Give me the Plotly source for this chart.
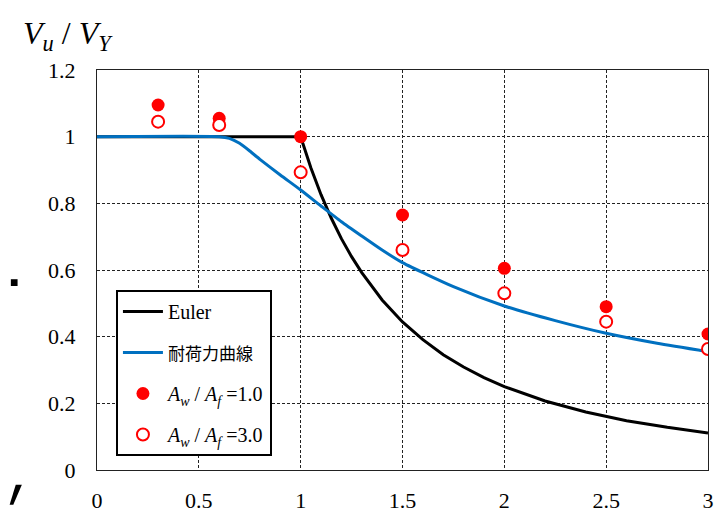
import plotly.graph_objects as go

# Euler curve
euler_x = [0, 1.0, 1.05, 1.1, 1.15, 1.2, 1.25, 1.3, 1.4, 1.5, 1.6, 1.7, 1.8, 1.9, 2.0, 2.2, 2.4, 2.6, 2.8, 3.0]
euler_y = [1.0, 1.0, 0.907, 0.826, 0.756, 0.694, 0.640, 0.592, 0.510, 0.444, 0.391, 0.346, 0.309, 0.277,
           0.250, 0.207, 0.174, 0.148, 0.128, 0.111]

# 耐荷力曲線
strength_x = [0, 0.6, 0.65, 0.7, 0.75, 0.8, 0.9, 1.0, 1.1, 1.2, 1.3, 1.4, 1.5, 1.75, 2.0, 2.25, 2.5, 2.75, 3.0]
strength_y = [1.0, 1.0, 0.995, 0.98, 0.957, 0.932, 0.885, 0.84, 0.792, 0.745, 0.702, 0.66, 0.622, 0.55,
              0.492, 0.448, 0.41, 0.38, 0.355]

# Test points
pts_x = [0.3, 0.6, 1.0, 1.5, 2.0, 2.5, 3.0]
aw1_y = [1.095, 1.055, 1.0, 0.765, 0.605, 0.49, 0.408]
aw3_y = [1.045, 1.035, 0.893, 0.66, 0.53, 0.445, 0.363]

x_ticks = [0, 0.5, 1, 1.5, 2, 2.5, 3]
x_tick_labels = ["0", "0.5", "1", "1.5", "2", "2.5", "3"]
y_ticks = [0, 0.2, 0.4, 0.6, 0.8, 1.0, 1.2]
y_tick_labels = ["0", "0.2", "0.4", "0.6", "0.8", "1", "1.2"]

SERIF = "Liberation Serif, serif"

fig = go.Figure()
fig.add_trace(go.Scatter(x=euler_x, y=euler_y, mode="lines", name="Euler",
                         line=dict(color="black", width=3), legendgroup="a"))
fig.add_trace(go.Scatter(x=strength_x, y=strength_y, mode="lines",
                         name="<span style='font-size:17px;font-family:Noto Sans CJK JP'>耐荷力曲線</span>",
                         line=dict(color="#0070C0", width=3, shape="spline", smoothing=0.6),
                         legendgroup="b"))
fig.add_trace(go.Scatter(x=pts_x, y=aw1_y, mode="markers",
                         name="<i>A<sub>w</sub></i> / <i>A<sub>f</sub></i> =1.0",
                         marker=dict(color="#FF0000", size=13, symbol="circle"),
                         legendgroup="c"))
fig.add_trace(go.Scatter(x=pts_x, y=aw3_y, mode="markers",
                         name="<i>A<sub>w</sub></i> / <i>A<sub>f</sub></i> =3.0",
                         marker=dict(color="white", size=12, symbol="circle",
                                     line=dict(color="#FF0000", width=2)),
                         legendgroup="d"))

axis_common = dict(
    showline=True, linecolor="#222", linewidth=1.3, mirror=True,
    showgrid=True, gridcolor="#222", gridwidth=1, griddash="3px,2px",
    zeroline=False, ticks="outside", ticklen=0, automargin=False,
    tickfont=dict(family=SERIF, size=22, color="black"),
)

fig.update_xaxes(range=[0, 3], tickmode="array", tickvals=x_ticks, ticktext=x_tick_labels,
                 ticklabelstandoff=10, **axis_common)
fig.update_yaxes(range=[0, 1.2], tickmode="array", tickvals=y_ticks, ticktext=y_tick_labels,
                 ticklabelstandoff=16, **axis_common)

# page body has an 8px default margin: figure is sized/offset to compensate
fig.update_layout(
    width=714, height=506,
    margin=dict(l=89, r=14, t=62, b=44, autoexpand=False),
    font=dict(family=SERIF, color="black"),
    paper_bgcolor="white", plot_bgcolor="white",
    showlegend=True,
    legend=dict(
        x=0.031, y=0.45, xanchor="left", yanchor="top",
        bgcolor="white", bordercolor="black", borderwidth=2,
        font=dict(family="Liberation Serif", size=20, color="black"),
        tracegroupgap=12, itemwidth=40,
    ),
    annotations=[
        dict(text="<i>V<sub>u</sub></i> / <i>V<sub>Y</sub></i>", xref="paper", yref="paper",
             x=-0.125, y=1.143, xanchor="left", yanchor="top", showarrow=False,
             font=dict(family=SERIF, size=32, color="black")),
    ],
    shapes=[
        dict(type="rect", xref="paper", yref="paper", x0=-0.141, x1=-0.13, y0=0.46, y1=0.477,
             fillcolor="black", line=dict(width=0)),
        dict(type="path", xref="paper", yref="paper",
             path="M -0.133 -0.037 L -0.123 -0.037 L -0.137 -0.087 L -0.143 -0.087 Z",
             fillcolor="black", line=dict(width=0)),
    ],
)

fig.write_html("out.html")
